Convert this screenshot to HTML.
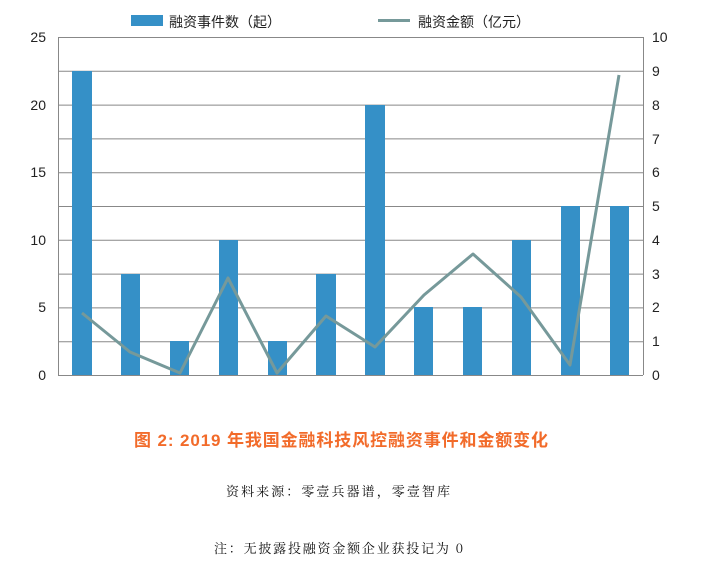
<!DOCTYPE html>
<html><head><meta charset="utf-8"><style>
body{margin:0;background:#fff;}
svg{display:block;font-family:"Liberation Sans","Noto Sans CJK SC",sans-serif;}
</style></head><body>
<svg width="704" height="569" viewBox="0 0 704 569" xmlns="http://www.w3.org/2000/svg">
<rect width="704" height="569" fill="#fff"/>
<g stroke="#888" stroke-width="1">
<line x1="58" y1="37.5" x2="643" y2="37.5"/>
<line x1="58" y1="71.3" x2="643" y2="71.3"/>
<line x1="58" y1="105.1" x2="643" y2="105.1"/>
<line x1="58" y1="138.9" x2="643" y2="138.9"/>
<line x1="58" y1="172.7" x2="643" y2="172.7"/>
<line x1="58" y1="206.5" x2="643" y2="206.5"/>
<line x1="58" y1="240.3" x2="643" y2="240.3"/>
<line x1="58" y1="274.1" x2="643" y2="274.1"/>
<line x1="58" y1="307.9" x2="643" y2="307.9"/>
<line x1="58" y1="341.7" x2="643" y2="341.7"/>
<line x1="58.5" y1="37" x2="58.5" y2="375"/>
<line x1="643.5" y1="37" x2="643.5" y2="375"/>
</g>
<g fill="#3590c7">
<rect x="72" y="71" width="20" height="304"/>
<rect x="121" y="274" width="19" height="101"/>
<rect x="170" y="341" width="19" height="34"/>
<rect x="219" y="240" width="19" height="135"/>
<rect x="268" y="341" width="19" height="34"/>
<rect x="316" y="274" width="20" height="101"/>
<rect x="365" y="105" width="20" height="270"/>
<rect x="414" y="307" width="19" height="68"/>
<rect x="463" y="307" width="19" height="68"/>
<rect x="512" y="240" width="19" height="135"/>
<rect x="561" y="206" width="19" height="169"/>
<rect x="610" y="206" width="19" height="169"/>
</g>
<line x1="58" y1="375.5" x2="643" y2="375.5" stroke="#888"/>
<polyline fill="none" stroke="#76999a" stroke-width="3" stroke-linejoin="round" points="82,313 130,352 180,373 228,278 277,373 326,316 375,347 424,295 473,254 521,297 570,365 619,75"/>
<g font-size="14" fill="#222" text-anchor="end">
<text x="46" y="42">25</text><text x="46" y="110">20</text><text x="46" y="177">15</text>
<text x="46" y="245">10</text><text x="46" y="312">5</text><text x="46" y="380">0</text>
</g>
<g font-size="14" fill="#222">
<text x="652" y="42">10</text><text x="652" y="76">9</text><text x="652" y="110">8</text>
<text x="652" y="144">7</text><text x="652" y="177">6</text><text x="652" y="211">5</text>
<text x="652" y="245">4</text><text x="652" y="279">3</text><text x="652" y="312">2</text>
<text x="652" y="346">1</text><text x="652" y="380">0</text>
</g>
<rect x="131" y="15" width="32" height="11" fill="#3590c7"/>
<text x="169" y="27" font-size="14" fill="#222">融资事件数（起）</text>
<line x1="378" y1="20.5" x2="410" y2="20.5" stroke="#76999a" stroke-width="3"/>
<text x="418" y="27" font-size="14" fill="#222">融资金额（亿元）</text>
<text x="134" y="446" font-size="17" font-weight="bold" fill="#f26b2a" textLength="414" lengthAdjust="spacing">图 2:  2019 年我国金融科技风控融资事件和金额变化</text>
<text x="226" y="496" font-size="13" fill="#111" font-family="'Noto Serif CJK SC','Liberation Serif',serif" textLength="224" lengthAdjust="spacing">资料来源：零壹兵器谱，零壹智库</text>
<text x="214" y="553" font-size="13" fill="#111" font-family="'Noto Serif CJK SC','Liberation Serif',serif" textLength="249" lengthAdjust="spacing">注：无披露投融资金额企业获投记为 0</text>
</svg>
</body></html>
